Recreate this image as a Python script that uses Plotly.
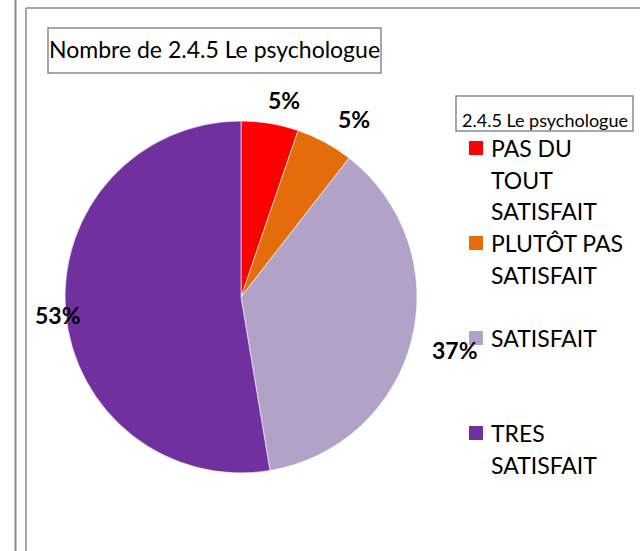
import textwrap
import plotly.graph_objects as go

# Survey answers for "2.4.5 Le psychologue"
categories = ["PAS DU TOUT SATISFAIT", "PLUTÔT PAS SATISFAIT", "SATISFAIT", "TRES SATISFAIT"]
counts = [1, 1, 7, 10]
colors = ["#ff0000", "#e46c0a", "#b3a2c7", "#7030a0"]

chart_title = "Nombre de 2.4.5 Le psychologue"
legend_title = "2.4.5 Le psychologue"

W, H = 640, 551
FONT = "Lato"


def px(x):
    return x / W


def py(y):
    return 1 - y / H


# pie placement (pixels)
cx, cy, r = 241, 297, 176

fig = go.Figure(go.Pie(
    labels=categories,
    values=counts,
    sort=False,
    direction="clockwise",
    rotation=0,
    marker=dict(colors=colors, line=dict(color="white", width=0.6)),
    textinfo="none",
    hoverinfo="label+percent",
    showlegend=False,
    domain=dict(x=[px(cx - r), px(cx + r)], y=[py(cy + r), py(cy - r)]),
))

shapes = []
annotations = []

# outer frame lines
shapes.append(dict(type="line", xref="paper", yref="paper",
                   x0=px(15.5), x1=px(15.5), y0=0, y1=1,
                   line=dict(color="#8a8a8a", width=2)))
shapes.append(dict(type="line", xref="paper", yref="paper",
                   x0=px(26), x1=px(26), y0=0, y1=py(8),
                   line=dict(color="#a6a6a6", width=2)))
shapes.append(dict(type="line", xref="paper", yref="paper",
                   x0=px(26), x1=1, y0=py(8), y1=py(8),
                   line=dict(color="#a6a6a6", width=2)))

# chart title box
shapes.append(dict(type="rect", xref="paper", yref="paper",
                   x0=px(48), x1=px(381), y0=py(73), y1=py(28),
                   line=dict(color="#8a8a8a", width=1.5)))
annotations.append(dict(text=chart_title, xref="paper", yref="paper",
                        x=px(214.5), y=py(49), showarrow=False,
                        xanchor="center", yanchor="middle",
                        font=dict(family=FONT, size=23, color="black")))

# percentage labels around the pie
total = sum(counts)
label_pos = [(284, 100), (354, 119), (455, 350), (58, 315)]
for v, (lx, ly) in zip(counts, label_pos):
    annotations.append(dict(text=f"{round(100 * v / total)}%", xref="paper", yref="paper",
                            x=px(lx), y=py(ly), showarrow=False,
                            xanchor="center", yanchor="middle",
                            font=dict(family=FONT, size=23, color="black", weight="bold")))

# legend title box
shapes.append(dict(type="rect", xref="paper", yref="paper",
                   x0=px(456), x1=px(633), y0=py(131), y1=py(96),
                   line=dict(color="#8a8a8a", width=1.5)))
annotations.append(dict(text=legend_title, xref="paper", yref="paper",
                        x=px(545), y=py(120), showarrow=False,
                        xanchor="center", yanchor="middle",
                        font=dict(family=FONT, size=18, color="black")))

# legend entries
item_top, item_step, line_step = 148, 95, 31.5
for i, (cat, col) in enumerate(zip(categories, colors)):
    y0 = item_top + i * item_step
    shapes.append(dict(type="rect", xref="paper", yref="paper",
                       x0=px(469), x1=px(483), y0=py(y0 + 7), y1=py(y0 - 7),
                       fillcolor=col, line=dict(width=0)))
    for j, line in enumerate(textwrap.wrap(cat, width=10)):
        annotations.append(dict(text=line, xref="paper", yref="paper",
                                x=px(489), y=py(y0 + j * line_step), showarrow=False,
                                xanchor="left", yanchor="middle",
                                font=dict(family=FONT, size=23, color="black")))

fig.update_layout(
    width=W, height=H,
    margin=dict(l=0, r=0, t=0, b=0),
    paper_bgcolor="white",
    plot_bgcolor="white",
    shapes=shapes,
    annotations=annotations,
)

fig.write_html("out.html")
